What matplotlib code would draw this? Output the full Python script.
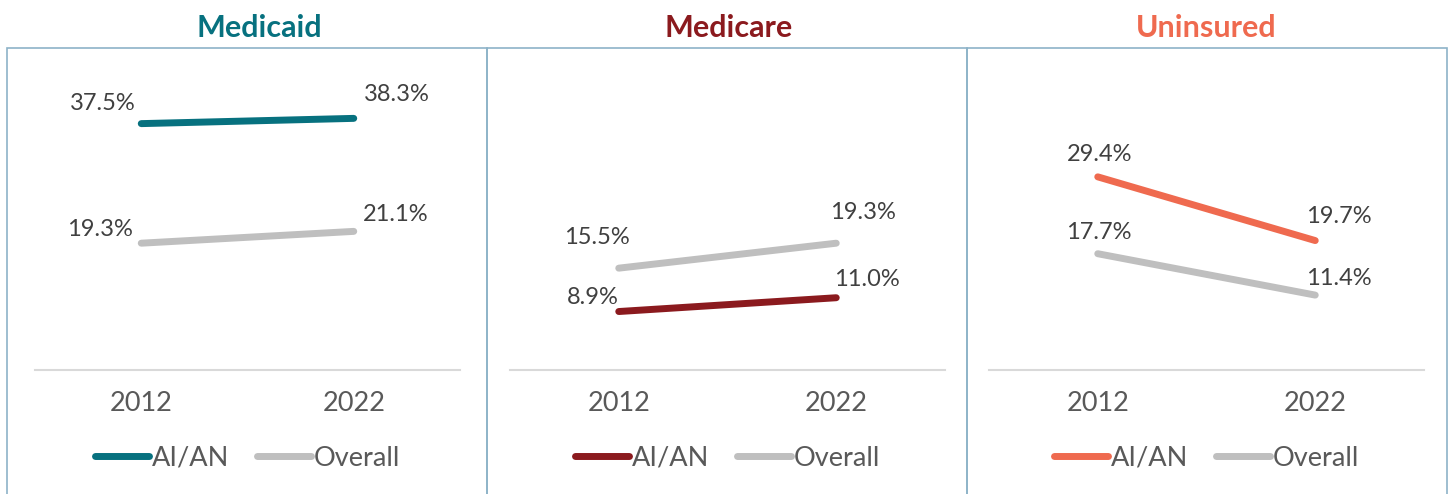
import matplotlib.pyplot as plt
from matplotlib.patches import Rectangle
from matplotlib.lines import Line2D

# ------------------------------------------------------
# Data
# ------------------------------------------------------

years = ["2012", "2022"]
panel_titles = ["Medicaid", "Medicare", "Uninsured"]

medicaid_aian = [37.5, 38.3]
medicaid_overall = [19.3, 21.1]

medicare_aian = [8.9, 11.0]
medicare_overall = [15.5, 19.3]

uninsured_aian = [29.4, 19.7]
uninsured_overall = [17.7, 11.4]

series_names = ["AI/AN", "Overall"]

# ------------------------------------------------------
# Styles
# ------------------------------------------------------

plt.rcParams["font.family"] = ["Lato", "DejaVu Sans"]

panel_colors = ["#07717F", "#8B1A1E", "#EF6A4F"]
gray = "#BFBFBF"
border_color = "#8DB3C8"
label_color = "#404040"
tick_color = "#595959"

W, H = 1449, 494

# axes placement (pixels: left, width)
axes_px = [(35, 425), (510, 435), (989, 435)]
zero_px = 370
px_per_pct = 6.57
ymax = 45

# panel boxes (pixels: left, right) and title centres
boxes_px = [(7, 487), (487, 967), (967, 1447)]
title_x_px = [259, 729, 1206]
box_top = 48

# data label offsets in points (dx, dy of baseline), per panel / series
label_offsets = [
    [[(-28, 9.5), (31, 12.5)], [(-30, 5.5), (30, 7.5)]],
    [[(-19, 5.5), (22, 8.5)], [(-16, 17.5), (19, 17.5)]],
    [[(1, 11.5), (17, 12.5)], [(1, 10.5), (17, 7.5)]],
]

data = [
    (medicaid_aian, medicaid_overall),
    (medicare_aian, medicare_overall),
    (uninsured_aian, uninsured_overall),
]

fig = plt.figure(figsize=(W / 100, H / 100), dpi=100)

# ------------------------------------------------------
# Panel borders
# ------------------------------------------------------

for left, right in boxes_px:
    fig.add_artist(Rectangle(
        (left / W, -0.2), (right - left) / W, (H - box_top) / H + 0.2,
        transform=fig.transFigure, fill=False,
        edgecolor=border_color, linewidth=1.2, clip_on=False
    ))

# ------------------------------------------------------
# Panels
# ------------------------------------------------------

for p, title in enumerate(panel_titles):

    x0, w = axes_px[p]
    ax = fig.add_axes([
        x0 / W, (H - zero_px) / H,
        w / W, ymax * px_per_pct / H
    ])

    aian, overall = data[p]
    color = panel_colors[p]
    xs = range(len(years))

    ax.plot(xs, overall, color=gray, linewidth=5,
            solid_capstyle="round", label=series_names[1], zorder=2)
    ax.plot(xs, aian, color=color, linewidth=5,
            solid_capstyle="round", label=series_names[0], zorder=3)

    for s, values in enumerate([aian, overall]):
        for i, v in enumerate(values):
            dx, dy = label_offsets[p][s][i]
            ax.annotate(f"{v:.1f}%", (i, v), xytext=(dx, dy),
                        textcoords="offset points", ha="center",
                        va="baseline", fontsize=17, color=label_color)

    ax.set_xlim(-0.5, 1.5)
    ax.set_ylim(0, ymax)
    ax.set_xticks(list(xs))
    ax.set_xticklabels(years, fontsize=19.5, color=tick_color)
    ax.tick_params(axis="x", length=0, pad=15)
    ax.set_yticks([])

    for side in ["top", "left", "right"]:
        ax.spines[side].set_visible(False)
    ax.spines["bottom"].set_color("#D9D9D9")
    ax.spines["bottom"].set_linewidth(1.5)
    ax.patch.set_alpha(0)

    handles = [
        Line2D([0], [0], color=color, linewidth=5, solid_capstyle="round"),
        Line2D([0], [0], color=gray, linewidth=5, solid_capstyle="round"),
    ]
    leg = ax.legend(handles, series_names, loc="center",
                    bbox_to_anchor=(0.5, -88 / (ymax * px_per_pct)),
                    ncol=2, frameon=False, fontsize=19.5,
                    handlelength=2.0, handletextpad=0.1,
                    columnspacing=1.0)
    for t in leg.get_texts():
        t.set_color(tick_color)

    fig.text(title_x_px[p] / W, 1 - 37 / H, title,
             ha="center", va="baseline", fontsize=22,
             fontweight="bold", color=color)

fig.savefig("out.png", dpi=100)
